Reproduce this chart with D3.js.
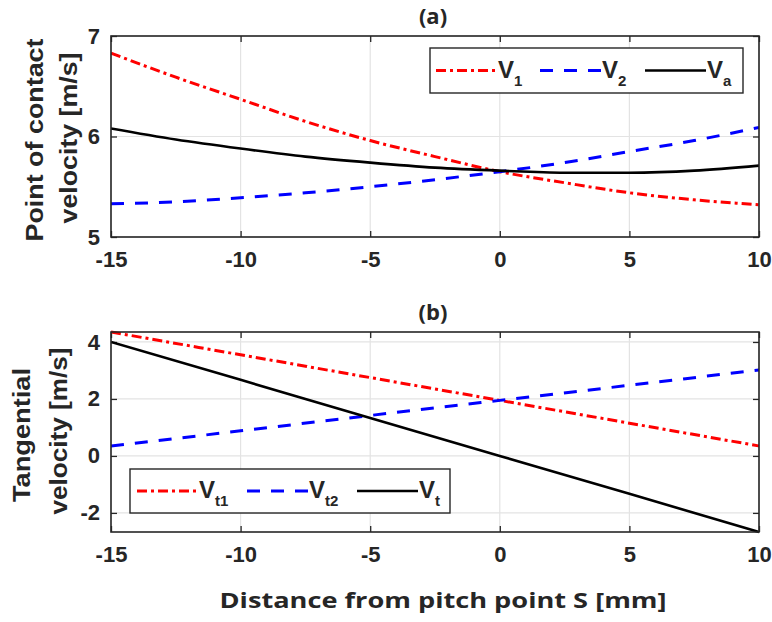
<!DOCTYPE html>
<html>
<head>
<meta charset="utf-8">
<script src="https://cdn.jsdelivr.net/npm/d3@7/dist/d3.min.js"></script>
<style>
  body { margin: 0; background: #fff; }
  svg { display: block; }
  text { font-family: "Liberation Sans", Arial, sans-serif; fill: #262626; }
</style>
</head>
<body>
<svg id="chart"></svg>
<script>
// data
const xTicks = [-15, -10, -5, 0, 5, 10];

// panel (a): point of contact velocity [m/s]
const sA = [-15, -12.5, -10, -7.5, -5, -2.5, 0, 2.5, 5, 7.5, 10];
const v1 = [6.83, 6.59, 6.37, 6.15, 5.96, 5.80, 5.65, 5.54, 5.44, 5.37, 5.32];
const v2 = [5.33, 5.35, 5.39, 5.44, 5.50, 5.57, 5.65, 5.74, 5.85, 5.96, 6.09];
const va = [6.08, 5.97, 5.88, 5.80, 5.74, 5.69, 5.66, 5.64, 5.64, 5.66, 5.71];
const yTicksA = [5, 6, 7];

// panel (b): tangential velocity [m/s]
const sB = [-15, -10, -5, 0, 5, 10];
const vt1 = [4.35, 3.55, 2.75, 1.95, 1.15, 0.35];
const vt2 = [0.35, 0.88, 1.42, 1.95, 2.48, 3.02];
const vt = [4.00, 2.67, 1.33, 0.00, -1.33, -2.67];
const yTicksB = [-2, 0, 2, 4];

const width = 772, height = 622;
const svg = d3.select('#chart').attr('width', width).attr('height', height);

const left = 111, right = 759;
const x = d3.scaleLinear().domain([-15, 10]).range([left, right]);
const fmt = d => String(d);   // plain hyphen minus, no decimals

const styles = {
  red:   { color: '#ff0000', dash: '10,4,3,4', w: 3 },
  blue:  { color: '#0000ff', dash: '13,11', w: 3 },
  black: { color: '#000000', dash: null, w: 2.6 }
};

function drawPanel(p) {
  const y = d3.scaleLinear().domain(p.yDomain).range([p.bottom, p.top]);
  const g = svg.append('g');

  // grid
  g.selectAll('.gx').data(xTicks).enter().append('line')
    .attr('x1', d => x(d)).attr('x2', d => x(d))
    .attr('y1', p.top).attr('y2', p.bottom)
    .attr('stroke', '#e3e3e3').attr('stroke-width', 1.2);
  g.selectAll('.gy').data(p.yTicks).enter().append('line')
    .attr('x1', left).attr('x2', right)
    .attr('y1', d => y(d)).attr('y2', d => y(d))
    .attr('stroke', '#e3e3e3').attr('stroke-width', 1.2);

  // axes, ticks inside on all four sides
  const tl = 6;
  g.append('g').attr('transform', `translate(0,${p.bottom})`)
    .call(d3.axisBottom(x).tickValues(xTicks).tickFormat(fmt).tickSize(-tl).tickPadding(tl + 8))
    .call(a => a.select('.domain').remove());
  g.append('g').attr('transform', `translate(0,${p.top})`)
    .call(d3.axisTop(x).tickValues(xTicks).tickSize(-tl).tickFormat(''))
    .call(a => a.select('.domain').remove());
  g.append('g').attr('transform', `translate(${left},0)`)
    .call(d3.axisLeft(y).tickValues(p.yTicks).tickFormat(fmt).tickSize(-tl).tickPadding(tl + 5))
    .call(a => a.select('.domain').remove());
  g.append('g').attr('transform', `translate(${right},0)`)
    .call(d3.axisRight(y).tickValues(p.yTicks).tickSize(-tl).tickFormat(''))
    .call(a => a.select('.domain').remove());
  g.selectAll('.tick line').attr('stroke', '#262626').attr('stroke-width', 1.3);
  g.selectAll('.tick text')
    .attr('font-family', '"Liberation Sans", Arial, sans-serif')
    .attr('font-size', 22).attr('font-weight', 'bold').attr('fill', '#262626');

  // clip
  const cid = 'clip' + p.id;
  svg.append('clipPath').attr('id', cid).append('rect')
    .attr('x', left).attr('y', p.top - 2)
    .attr('width', right - left).attr('height', p.bottom - p.top + 4);

  const line = d3.line().x(d => x(d[0])).y(d => y(d[1])).curve(d3.curveMonotoneX);
  p.series.forEach(s => {
    const st = styles[s.style];
    g.append('path')
      .datum(p.xs.map((v, i) => [v, s.values[i]]))
      .attr('clip-path', `url(#${cid})`)
      .attr('d', line)
      .attr('fill', 'none')
      .attr('stroke', st.color)
      .attr('stroke-width', st.w)
      .attr('stroke-dasharray', st.dash);
  });

  // frame
  g.append('rect')
    .attr('x', left).attr('y', p.top)
    .attr('width', right - left).attr('height', p.bottom - p.top)
    .attr('fill', 'none').attr('stroke', '#262626').attr('stroke-width', 1.6);

  // title
  g.append('text')
    .attr('x', (left + right) / 2 - 2).attr('y', p.top - 12)
    .attr('text-anchor', 'middle')
    .style('font-family', '"Open Sans", sans-serif')
    .attr('font-size', 22).attr('font-weight', 'bold').attr('fill', '#111')
    .text(p.title);

  // y label, two lines
  p.ylabel.forEach((t, i) => {
    g.append('text')
      .attr('transform', `translate(${p.ylabelX[i]},${p.ylabelY[i]}) rotate(-90)`)
      .attr('text-anchor', 'middle')
      .attr('font-size', 24).attr('font-weight', 'bold').attr('fill', '#262626')
      .attr('textLength', p.ylabelLen[i]).attr('lengthAdjust', 'spacingAndGlyphs')
      .text(t);
  });

  // legend
  const L = p.legend;
  g.append('rect')
    .attr('x', L.x).attr('y', L.y).attr('width', L.w).attr('height', L.h)
    .attr('fill', '#fff').attr('stroke', '#262626').attr('stroke-width', 1.4);
  p.series.forEach((s, i) => {
    const st = styles[s.style];
    const x0 = L.x + L.offsets[i];
    const ly = L.y + L.h / 2;
    g.append('line')
      .attr('x1', x0).attr('x2', x0 + 61).attr('y1', ly).attr('y2', ly)
      .attr('stroke', st.color).attr('stroke-width', st.w)
      .attr('stroke-dasharray', st.dash);
    const t = g.append('text')
      .attr('x', x0 + 62).attr('y', ly + 7)
      .attr('font-size', 24).attr('font-weight', 'bold').attr('fill', '#1a1a1a');
    t.append('tspan').text('V');
    t.append('tspan').attr('dy', 8).attr('font-size', 15).text(s.sub);
  });
}

drawPanel({
  id: 'a', top: 36, bottom: 237, yDomain: [5, 7], yTicks: yTicksA,
  xs: sA, title: '(a)',
  ylabel: ['Point of contact', 'velocity [m/s]'],
  ylabelX: [43, 77], ylabelY: [140, 138], ylabelLen: [203, 171],
  series: [
    { values: v1, style: 'red', sub: '1' },
    { values: v2, style: 'blue', sub: '2' },
    { values: va, style: 'black', sub: 'a' }
  ],
  legend: { x: 430, y: 48, w: 313, h: 45, offsets: [6, 110, 215] }
});

drawPanel({
  id: 'b', top: 332, bottom: 532, yDomain: [-2.67, 4.35], yTicks: yTicksB,
  xs: sB, title: '(b)',
  ylabel: ['Tangential', 'velocity [m/s]'],
  ylabelX: [30, 67], ylabelY: [435, 431], ylabelLen: [134, 167],
  series: [
    { values: vt1, style: 'red', sub: 't1' },
    { values: vt2, style: 'blue', sub: 't2' },
    { values: vt, style: 'black', sub: 't' }
  ],
  legend: { x: 130, y: 469, w: 320, h: 44, offsets: [7, 117, 227] }
});

// shared x label
svg.append('text')
  .attr('x', 443).attr('y', 608)
  .attr('text-anchor', 'middle')
  .style('font-family', '"Open Sans", sans-serif')
  .attr('font-size', 22).attr('font-weight', 'bold').attr('fill', '#111')
  .attr('textLength', 447).attr('lengthAdjust', 'spacingAndGlyphs')
  .text('Distance from pitch point  S [mm]');
</script>
</body>
</html>
